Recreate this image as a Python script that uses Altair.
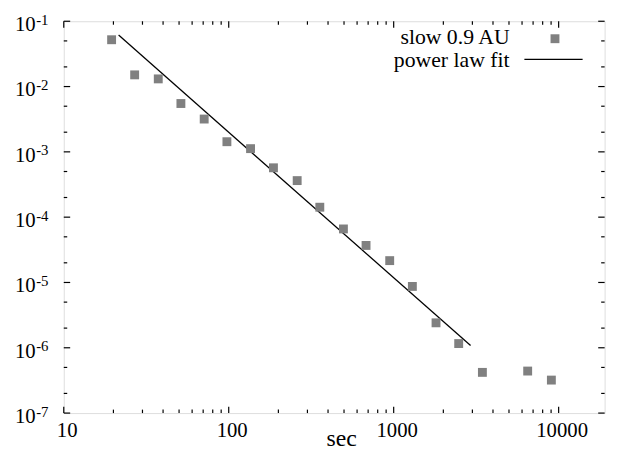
import altair as alt
import pandas as pd

# measured data (slow wind at 0.9 AU)
sec = [19.5, 26.9, 37.4, 51.3, 71, 97.5, 135.6, 186.7, 260, 356.6, 495.8,
       680, 946, 1298, 1806, 2478, 3450, 6491, 9035]
flux = [0.0521, 0.0151, 0.0131, 0.0055, 0.00318, 0.00143, 0.00112, 5.7e-4,
        3.63e-4, 1.42e-4, 6.6e-5, 3.69e-5, 2.16e-5, 8.7e-6, 2.41e-6, 1.16e-6,
        4.2e-7, 4.4e-7, 3.2e-7]

# power law fit end points
fit_sec = [21.5, 2925]
fit_flux = [0.0614, 1.08e-6]

# axis ticks
x_major = [10, 100, 1000, 10000]
x_minor = [20, 30, 40, 50, 60, 70, 80, 90,
           200, 300, 400, 500, 600, 700, 800, 900,
           2000, 3000, 4000, 5000, 6000, 7000, 8000, 9000]
y_major = [1e-1, 1e-2, 1e-3, 1e-4, 1e-5, 1e-6, 1e-7]
y_exp = ["-1", "-2", "-3", "-4", "-5", "-6", "-7"]
y_minor = [5e-2, 2e-2, 5e-3, 2e-3, 5e-4, 2e-4, 5e-5, 2e-5, 5e-6, 2e-6,
           5e-7, 2e-7]

legend_labels = ["slow 0.9 AU", "power law fit"]

W, H = 548, 397
FONT = "Liberation Serif"
MAJ, MIN = 6.5, 3.5

xs = alt.Scale(type="log", domain=[10, 19000], nice=False)
ys = alt.Scale(type="log", domain=[1e-7, 1e-1], nice=False)

x_axis = alt.Axis(values=x_major, format="d", title="sec", grid=False,
                  ticks=False, tickSize=0, domain=False,
                  labelFont=FONT, labelFontSize=21, labelColor="black",
                  labelBaseline="alphabetic", labelPadding=23.5,
                  labelOffset=3, labelFlush=False,
                  titleFont=FONT, titleFontSize=24, titleFontWeight="normal",
                  titleColor="black", titleBaseline="alphabetic",
                  titleX=281, titleY=32.5)
y_axis = alt.Axis(labels=False, ticks=False, domain=False, grid=False,
                  title=None)


def X(f="x"):
    return alt.X(f"{f}:Q", scale=xs, axis=x_axis)


def Y(f="y"):
    return alt.Y(f"{f}:Q", scale=ys, axis=y_axis)


pts = pd.DataFrame({"x": sec, "y": flux})
fit = pd.DataFrame({"x": fit_sec, "y": fit_flux})

points = alt.Chart(pts).mark_square(size=81, color="#808080", opacity=1).encode(
    x=X(), y=Y())
line = alt.Chart(fit).mark_line(color="black", strokeWidth=1.3).encode(
    x=X(), y=Y())

layers = [line, points]


def xticks(vals, L):
    d = pd.DataFrame({"x": vals})
    bottom = alt.Chart(d).mark_rule(color="black", strokeWidth=1.2).encode(
        x=X(), y=alt.value(H), y2=alt.value(H - L))
    top = alt.Chart(d).mark_rule(color="black", strokeWidth=1.2).encode(
        x=X(), y=alt.value(0), y2=alt.value(L))
    return [bottom, top]


def yticks(vals, L):
    d = pd.DataFrame({"y": vals})
    left = alt.Chart(d).mark_rule(color="black", strokeWidth=1.2).encode(
        y=Y(), x=alt.value(0), x2=alt.value(L))
    right = alt.Chart(d).mark_rule(color="black", strokeWidth=1.2).encode(
        y=Y(), x=alt.value(W), x2=alt.value(W - L))
    return [left, right]


layers += xticks(x_major, MAJ) + xticks(x_minor, MIN)
layers += yticks(y_major, MAJ) + yticks(y_minor, MIN)

ylab = pd.DataFrame({"y": y_major, "exp": y_exp})
ten = alt.Chart(ylab).mark_text(font=FONT, fontSize=21, align="right",
                                baseline="alphabetic", dy=10,
                                color="black").encode(
    y=Y(), x=alt.value(-28.5), text=alt.value("10"))
sup = alt.Chart(ylab).mark_text(font=FONT, fontSize=15, align="left",
                                baseline="alphabetic", dy=3.5,
                                color="black").encode(
    y=Y(), x=alt.value(-28), text="exp:N")
layers += [ten, sup]

# legend (top right, inside the frame)
lg1 = alt.Chart(pd.DataFrame({"t": [legend_labels[0]]})).mark_text(
    font=FONT, fontSize=22, align="right", baseline="alphabetic",
    color="black").encode(x=alt.value(451.7), y=alt.value(23.3), text="t:N")
lg2 = alt.Chart(pd.DataFrame({"t": [legend_labels[1]]})).mark_text(
    font=FONT, fontSize=22, align="right", baseline="alphabetic",
    color="black").encode(x=alt.value(451.7), y=alt.value(46), text="t:N")
lg_sq = alt.Chart(pd.DataFrame({"t": [legend_labels[0]]})).mark_square(
    size=81, color="#808080", opacity=1).encode(
    x=alt.value(497.7), y=alt.value(17.7))
lg_ln = alt.Chart(pd.DataFrame({"t": [legend_labels[1]]})).mark_rule(
    color="black", strokeWidth=1.3).encode(
    x=alt.value(466.7), x2=alt.value(525.7), y=alt.value(38.7))
layers += [lg1, lg2, lg_sq, lg_ln]

chart = alt.layer(*layers).properties(
    width=W, height=H,
    autosize=alt.AutoSizeParams(type="none"),
    padding={"left": 56.5, "top": 10.5, "right": 9.5, "bottom": 35.5},
).configure_view(stroke="black", strokeWidth=2).configure(background="white")

chart.save("out.html", embed_options={"renderer": "svg", "actions": False})
